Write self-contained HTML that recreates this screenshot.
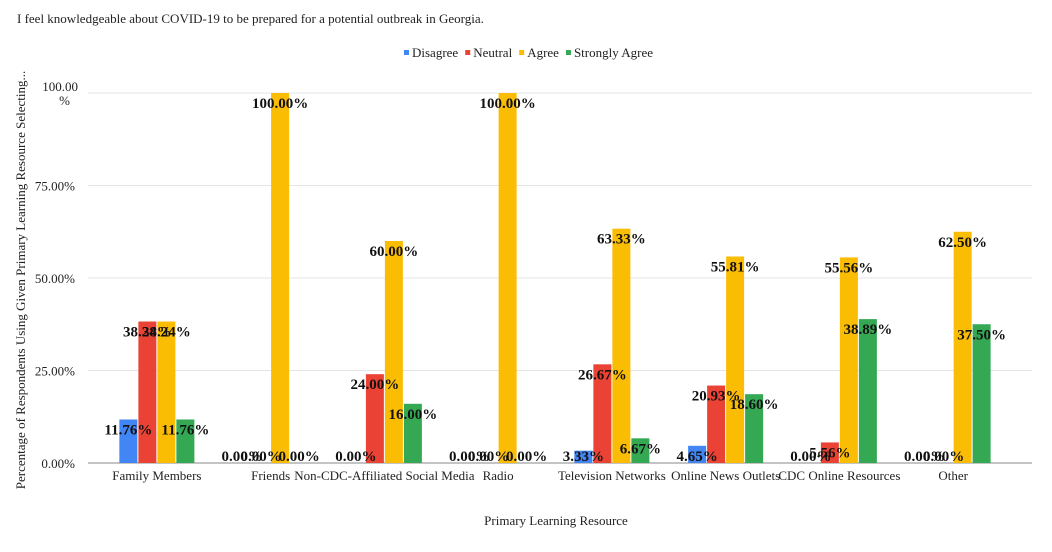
<!DOCTYPE html>
<html><head><meta charset="utf-8"><style>
body{margin:0;background:#fff;}
svg{display:block;font-family:"Liberation Serif",serif;}
</style></head><body>
<svg id="chart" width="1052" height="552">
<text x="17" y="23" font-size="13" fill="#222">I feel knowledgeable about COVID-19 to be prepared for a potential outbreak in Georgia.</text>
<g id="legend"></g>
<g id="grid"></g>
<g id="bars"></g>
<g id="labels"></g>
<g id="xaxis"></g>
<text x="556" y="525" font-size="13" text-anchor="middle" fill="#222">Primary Learning Resource</text>
<text transform="translate(25,280) rotate(-90)" font-size="13" text-anchor="middle" fill="#222">Percentage of Respondents Using Given Primary Learning Resource Selecting...</text>
</svg>
<script>
const categories=["Family Members","Friends","Non-CDC-Affiliated Social Media","Radio","Television Networks","Online News Outlets","CDC Online Resources","Other"];
const seriesNames=["Disagree","Neutral","Agree","Strongly Agree"];
const disagree=[11.76,0,0,0,3.33,4.65,0,0];
const neutral=[38.24,0,24,0,26.67,20.93,5.56,0];
const agree=[38.24,100,60,100,63.33,55.81,55.56,62.5];
const stronglyAgree=[11.76,0,16,0,6.67,18.6,38.89,37.5];
const yTicks=[0,25,50,75,100];
const series=[disagree,neutral,agree,stronglyAgree];
const colors=["#4285f4","#ea4335","#fbbc04","#34a853"];
const NS="http://www.w3.org/2000/svg";
const x0=100,x1=1010,yBase=463,yTop=93;
const y=v=>yBase-(v/100)*(yBase-yTop);
const band=(x1-x0)/categories.length;
const bw=18,gap=1;
function mk(tag,attrs,parent){const e=document.createElementNS(NS,tag);for(const k in attrs)e.setAttribute(k,attrs[k]);parent.appendChild(e);return e;}
const grid=document.getElementById('grid');
yTicks.forEach(t=>{
  const l=mk('line',{x1:88,x2:1032,y1:y(t),y2:y(t),stroke:t===0?'#888':'#e4e4e4','stroke-width':1},grid);
  
  
  if(t===100){
    const tx=mk('text',{x:78,y:y(t)-2,'font-size':13,'text-anchor':'end',fill:'#222'},grid);
    tx.textContent='100.00';
    
    
    const t2=mk('text',{x:70,y:y(t)+12,'font-size':13,'text-anchor':'end',fill:'#222'},grid);
    t2.textContent='%';
    
    
  } else {
    const tx=mk('text',{x:75,y:y(t)+5,'font-size':13,'text-anchor':'end',fill:'#222'},grid);
    tx.textContent=t.toFixed(2)+'%';
    
    
  }
});
const bars=document.getElementById('bars'),labels=document.getElementById('labels'),xa=document.getElementById('xaxis');
categories.forEach((c,i)=>{
  const cx=x0+band*(i+0.5);
  const gx=cx-(4*bw+3*gap)/2;
  series.forEach((s,j)=>{
    const v=s[i];const bx=gx+j*(bw+gap);
    if(v>0){
      const r=mk('rect',{x:bx,y:y(v),width:bw,height:yBase-y(v),fill:colors[j]},bars);
      
      
    }
    const ly=Math.min(y(v)+15,yBase-2);
    const t=mk('text',{x:bx+bw/2,y:ly,'font-size':15,'font-weight':'bold','text-anchor':'middle',fill:'#111'},labels);
    t.textContent=v.toFixed(2)+'%';
    
    
  });
  const xl=mk('text',{x:cx,y:480,'font-size':13,'text-anchor':'middle',fill:'#222'},xa);
  xl.textContent=c;
  
  
});
const lg=document.getElementById('legend');
let lx=404;
seriesNames.forEach((n,j)=>{
  const r=mk('rect',{x:lx,y:50,width:5,height:5,fill:colors[j]},lg);
  
  
  const t=mk('text',{x:lx+8,y:57,'font-size':13,fill:'#222'},lg);
  t.textContent=n;
  
  
  lx+=8+t.getComputedTextLength()+7;
});
</script>
</body></html>
